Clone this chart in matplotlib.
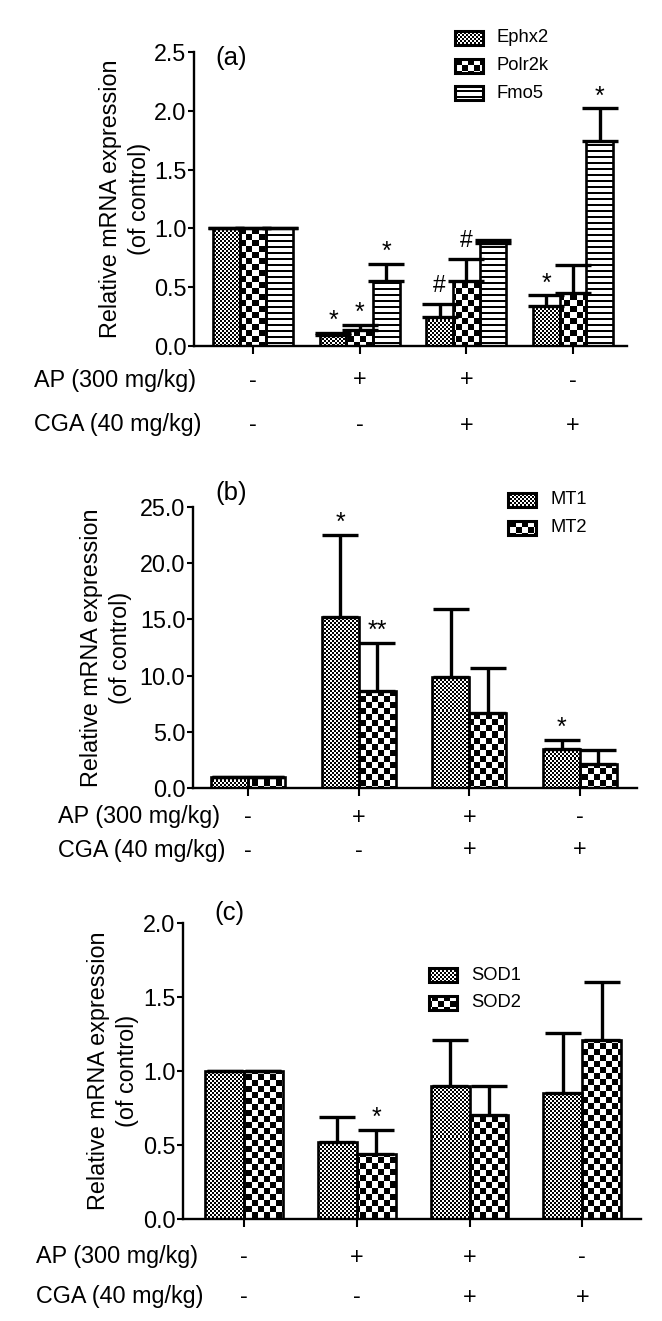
import numpy as np
import matplotlib
matplotlib.use('Agg')
import matplotlib.pyplot as plt
from matplotlib.patches import Rectangle
from matplotlib.ticker import FormatStrFormatter
from matplotlib.transforms import blended_transform_factory

plt.rcParams['font.family'] = ['Liberation Sans', 'DejaVu Sans']

W, H = 662, 1321
FS = 16.8

ap_signs = ['-', '+', '+', '-']
cga_signs = ['-', '-', '+', '+']
ap_label = 'AP (300 mg/kg)'
cga_label = 'CGA (40 mg/kg)'
ylabel = 'Relative mRNA expression\n(of control)'

# panel (a)
a_genes = ['Ephx2', 'Polr2k', 'Fmo5']
ephx2_mean = [1.0, 0.09, 0.25, 0.34]
ephx2_err = [0.0, 0.02, 0.11, 0.09]
polr2k_mean = [1.0, 0.14, 0.55, 0.45]
polr2k_err = [0.0, 0.04, 0.19, 0.24]
fmo5_mean = [1.0, 0.55, 0.88, 1.74]
fmo5_err = [0.0, 0.15, 0.02, 0.28]
a_marks = [(1, 0, '*'), (1, 1, '*'), (1, 2, '*'), (2, 0, '#'), (2, 1, '#'),
           (3, 0, '*'), (3, 2, '*')]

# panel (b)
b_genes = ['MT1', 'MT2']
mt1_mean = [1.0, 15.2, 9.9, 3.5]
mt1_err = [0.0, 7.3, 6.0, 0.8]
mt2_mean = [1.0, 8.6, 6.7, 2.1]
mt2_err = [0.0, 4.3, 4.0, 1.3]
b_marks = [(1, 0, '*'), (1, 1, '**'), (3, 0, '*')]

# panel (c)
c_genes = ['SOD1', 'SOD2']
sod1_mean = [1.0, 0.52, 0.90, 0.85]
sod1_err = [0.0, 0.17, 0.31, 0.41]
sod2_mean = [1.0, 0.44, 0.70, 1.21]
sod2_err = [0.0, 0.16, 0.20, 0.39]
c_marks = [(1, 1, '*')]

kinds = ['fine', 'check', 'hlines']

fig = plt.figure(figsize=(W / 100, H / 100), dpi=100)
ov = fig.add_axes([0, 0, 1, 1], zorder=5)
ov.set_xlim(0, W)
ov.set_ylim(H, 0)
ov.axis('off')
ov.patch.set_alpha(0)


def texture(kind, x0, y0, w, h):
    X, Y = np.meshgrid(np.arange(x0, x0 + w), np.arange(y0, y0 + h))
    if kind == 'fine':
        v = (X // 2 + Y // 2) % 2
    elif kind == 'check':
        v = (X // 6 + Y // 6) % 2
    else:
        v = (Y % 6) >= 2
    return v.astype(float)


def fill_patch(ax, patch, kind):
    bb = patch.get_window_extent()
    px0, px1 = int(np.floor(bb.x0)), int(np.ceil(bb.x1))
    py0, py1 = int(np.floor(bb.y0)), int(np.ceil(bb.y1))
    arr = texture(kind, px0, H - py1, px1 - px0, py1 - py0)
    inv = ax.transData.inverted()
    dx0, dy0 = inv.transform((px0, py0))
    dx1, dy1 = inv.transform((px1, py1))
    im = ax.imshow(arr, cmap='gray', vmin=0, vmax=1, extent=(dx0, dx1, dy0, dy1),
                   origin='upper', interpolation='nearest', aspect='auto',
                   zorder=patch.get_zorder() - 0.5)
    im.set_clip_path(patch)


def panel(rect_px, xlim, ymax, ystep, width, means, errs, genes, marks,
          ylab_x, row_x, row_y, letter_xy, letter, leg_x, leg_y):
    left, right, top, bottom = rect_px
    ax = fig.add_axes([left / W, 1 - bottom / H, (right - left) / W, (bottom - top) / H])
    n = len(means)
    x = np.arange(4)
    bars_all = []
    for j in range(n):
        xs = x + (j - (n - 1) / 2) * width
        bars = ax.bar(xs, means[j], width, facecolor='none', edgecolor='black',
                      linewidth=1.9, zorder=3)
        bars_all.append(bars)
        ax.errorbar(xs, means[j], yerr=[np.zeros(4), errs[j]], fmt='none', ecolor='black',
                    elinewidth=2.4, capsize=13, capthick=2.4, zorder=4)
    ax.set_xlim(*xlim)
    ax.set_ylim(0, ymax)
    ax.set_autoscale_on(False)
    for j, bars in enumerate(bars_all):
        for p in bars.patches:
            fill_patch(ax, p, kinds[j])

    for sp in ['top', 'right']:
        ax.spines[sp].set_visible(False)
    for sp in ['left', 'bottom']:
        ax.spines[sp].set_linewidth(1.7)
    ax.set_yticks(np.arange(0, ymax + ystep / 2, ystep))
    ax.yaxis.set_major_formatter(FormatStrFormatter('%.1f'))
    ax.set_xticks(x)
    ax.set_xticklabels([])
    ax.tick_params(axis='y', length=4.5, width=1.5, pad=1, labelsize=FS)
    ax.tick_params(axis='x', length=6, width=1.5)

    offs = {'*': 3.5, '**': 3.5, '#': 8.5}
    for g, s, sym in marks:
        xs = g + (s - (n - 1) / 2) * width
        ax.annotate(sym, xy=(xs, means[s][g] + errs[s][g]), xytext=(0, offs[sym]),
                    textcoords='offset points', ha='center', va='baseline',
                    fontsize=18 if sym != '#' else 16.5, zorder=6)

    ov.text(ylab_x, (top + bottom) / 2, ylabel, rotation=90, ha='center', va='center',
            multialignment='center', linespacing=1.3, fontsize=FS)
    ov.text(*letter_xy, letter, ha='center', va='center', fontsize=18.5)

    tr = blended_transform_factory(ax.transData, ov.transData)
    for ry, lab, signs in zip(row_y, [ap_label, cga_label], [ap_signs, cga_signs]):
        ov.text(row_x, ry, lab, ha='left', va='center', fontsize=FS)
        for i, sg in enumerate(signs):
            ov.text(i, ry, sg, transform=tr, ha='center', va='center', fontsize=FS)

    kw, kh = 28, 14
    for j, g in enumerate(genes):
        yy = leg_y + j * 27.5
        r = Rectangle((leg_x, yy - kh / 2), kw, kh, facecolor='none', edgecolor='black',
                      linewidth=2.2, zorder=3)
        ov.add_patch(r)
        fill_patch(ov, r, kinds[j])
        ov.text(leg_x + kw + 14, yy, g, ha='left', va='center', fontsize=13.2)
    return ax


panel((194, 627, 52, 346), (-0.553, 3.506), 2.5, 0.5, 0.25,
      [ephx2_mean, polr2k_mean, fmo5_mean], [ephx2_err, polr2k_err, fmo5_err],
      a_genes, a_marks, 125, 34, (380, 425), (231, 58), '(a)', 455, 38)

panel((193, 637, 507, 788), (-0.497, 3.515), 25, 5, 0.333,
      [mt1_mean, mt2_mean], [mt1_err, mt2_err],
      b_genes, b_marks, 106, 58, (817, 850), (231, 493), '(b)', 508, 500)

panel((183, 641, 923, 1219), (-0.541, 3.52), 2.0, 0.5, 0.345,
      [sod1_mean, sod2_mean], [sod1_err, sod2_err],
      c_genes, c_marks, 113, 36, (1257, 1297), (229, 913), '(c)', 429, 975)

fig.savefig('out.png', dpi=100)
